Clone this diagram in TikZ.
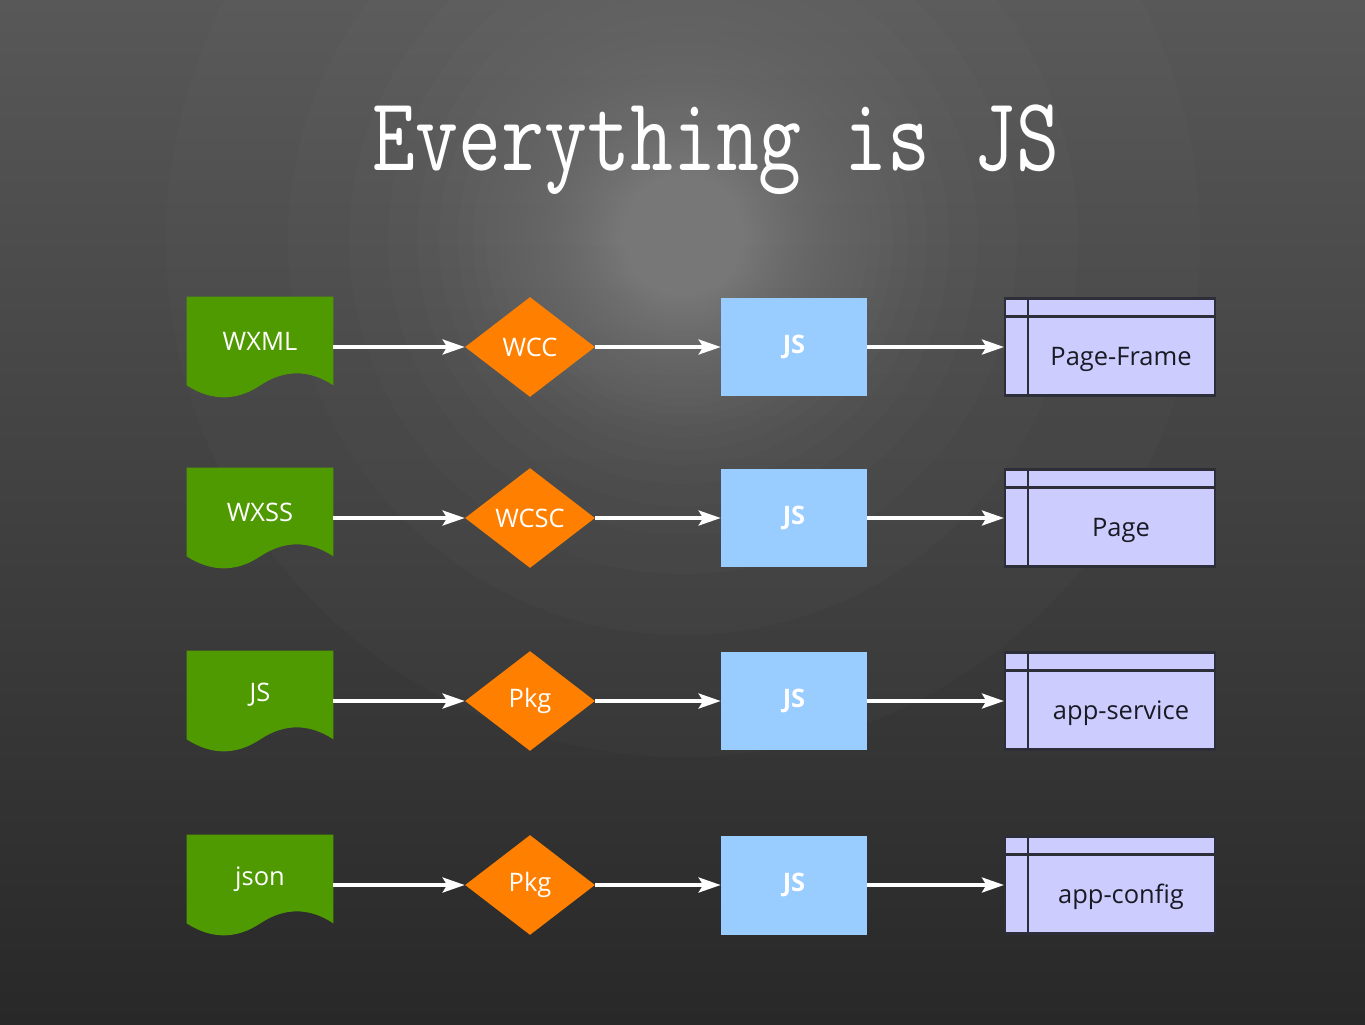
\documentclass[tikz,border=0pt]{standalone}
\usepackage{fontspec}
\usepackage{graphicx}
\usetikzlibrary{shapes.geometric,arrows.meta}
\newfontfamily\uifont{Open Sans}
\definecolor{docgreen}{HTML}{4E9A00}
\definecolor{jsblue}{HTML}{99CCFF}
\definecolor{diaorange}{HTML}{FF8000}
\definecolor{pagefill}{HTML}{CCCCFF}
\definecolor{pageline}{HTML}{2E2E38}
\definecolor{pagetxt}{HTML}{1A1A24}
\definecolor{bgTop}{HTML}{585858}
\definecolor{bgMid}{HTML}{404040}
\definecolor{bgBot}{HTML}{282828}
\definecolor{bgGlow}{HTML}{909090}
\pgfdeclarelayer{bg}
\pgfsetlayers{bg,main}
\begin{document}
\begin{tikzpicture}[x=0.02cm,y=-0.02cm,
  uitext/.style={font=\uifont\fontsize{14.5}{16}\selectfont},
  docnode/.style={rectangle, minimum width=2.92cm, minimum height=1.76cm, inner sep=0pt, text=white, uitext},
  dianode/.style={diamond, fill=diaorange, minimum width=2.6cm, minimum height=2cm, inner sep=0pt, aspect=1.3, text=white, uitext},
  jsnode/.style={rectangle, fill=jsblue, minimum width=2.92cm, minimum height=1.98cm, inner sep=0pt, text=white, font=\uifont\bfseries\fontsize{14.5}{16}\selectfont},
  pagenode/.style={rectangle, fill=pagefill, draw=pageline, line width=1.2pt, minimum width=4.2cm, minimum height=1.94cm, inner sep=0pt},
  pagetext/.style={text=pagetxt, uitext, inner sep=0pt, anchor=base},
  pagerule/.style={draw=pageline, line width=1.2pt},
  flow/.style={draw=white, line width=2.1pt, -{Stealth[length=12.5pt,width=8.5pt,inset=2.5pt]}},
  glowring/.style={fill=bgGlow, opacity=0.04},
  titletext/.style={text=white, font=\ttfamily\fontsize{60}{60}\selectfont, inner sep=0pt}]
\useasboundingbox (0,0) rectangle (1365,1024);
\begin{pgfonlayer}{bg}
  \begin{scope}
    \clip (0,0) rectangle (1365,1024);
    \shade[top color=bgTop, bottom color=bgBot, middle color=bgMid] (0,0) rectangle (1365,1024);
    \foreach \r in {517,395,334,295,266,244,225,210,197,185,175,166,158,150,143,136,130,124,119,114,109,104,100,96,91,87,84,80,76,73,69,66,62,59,56,52,49,46,42,39,35,31,27,23,17,10}
      \fill[glowring] (683,240) circle[radius=\r];
  \end{scope}
\end{pgfonlayer}

\node[titletext, anchor=base] (title) at (716,170) {\scalebox{0.79}[1]{Everything is JS}};

\foreach \i/\c/\a/\b/\t in {1/347/WXML/WCC/Page-Frame, 2/518/WXSS/WCSC/Page, 3/701/JS/Pkg/app-service, 4/885/json/Pkg/app-config}{
  \node[docnode] (d\i) at (260,\c-6) {\a};
  \begin{pgfonlayer}{bg}
    \fill[docgreen] (d\i.north west) -- (d\i.north east) -- (d\i.south east)
      .. controls ([shift={(-24,-16)}]d\i.south east) and ([shift={(-49,-16)}]d\i.south east) .. ([shift={(-73,0)}]d\i.south east)
      .. controls ([shift={(-97,16)}]d\i.south east) and ([shift={(-122,16)}]d\i.south east) .. (d\i.south west) -- cycle;
  \end{pgfonlayer}
  \node[dianode] (w\i) at (530,\c) {\b};
  \node[jsnode] (j\i) at (794,\c) {JS};
  \node[pagenode] (p\i) at (1110,\c) {};
  \draw[pagerule] ([xshift=0.48cm]p\i.north west) -- ([xshift=0.48cm]p\i.south west);
  \draw[pagerule] ([yshift=-0.38cm]p\i.north west) -- ([yshift=-0.38cm]p\i.north east);
  \node[pagetext] (pl\i) at (1121,\c+18) {\t};
  \draw[flow] (d\i.east |- w\i.west) -- (w\i.west);
  \draw[flow] (w\i.east) -- (j\i.west);
  \draw[flow] (j\i.east) -- (p\i.west);
}
\end{tikzpicture}
\end{document}
